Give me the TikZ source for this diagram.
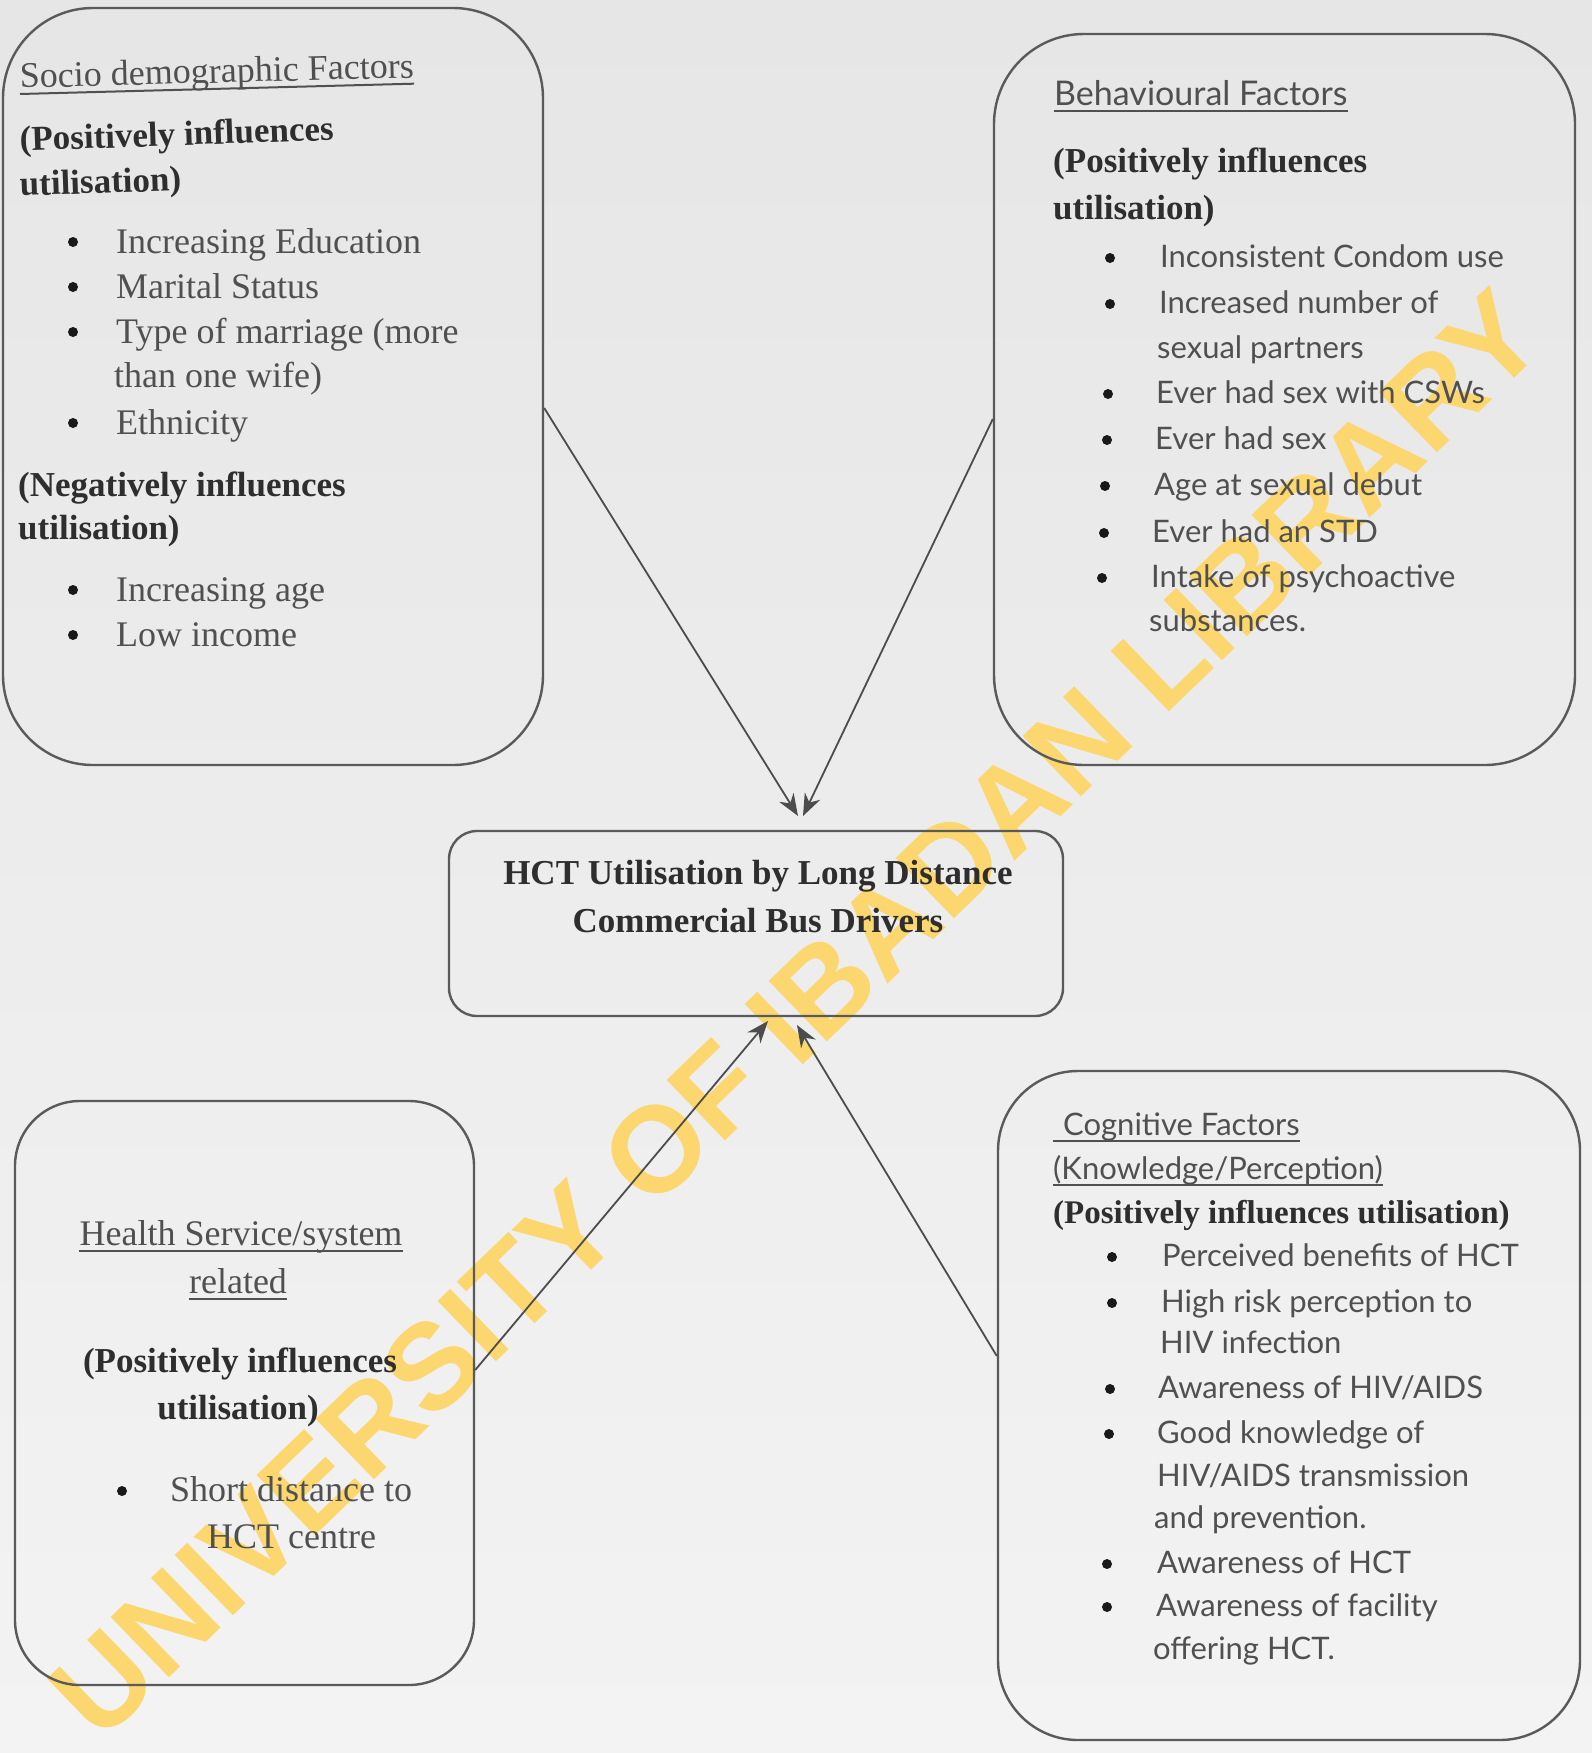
\documentclass[tikz,border=0pt]{standalone}
\usepackage{fontspec}
\setmainfont{Liberation Serif}
\newfontfamily\gill{Lato}
\newfontfamily\stampfont{Liberation Sans}
\usetikzlibrary{arrows.meta,calc}

\definecolor{papertop}{HTML}{E6E6E6}
\definecolor{paperbot}{HTML}{F3F3F3}
\definecolor{ink}{HTML}{505050}
\definecolor{inkdark}{HTML}{2E2E2E}
\definecolor{frame}{HTML}{5A5A5A}
\definecolor{stamp}{RGB}{252,215,112}

\begin{document}
\begin{tikzpicture}[x=1pt,y=-1pt,
  frm/.style={draw=frame, line width=2.4pt},
  txt/.style={anchor=base west, inner sep=0pt, text=ink, font=\fontsize{36}{44}\selectfont},
  ctxt/.style={txt, anchor=base},
  sans/.style={anchor=base west, inner sep=0pt, text=ink, font=\gill\fontsize{31}{40}\selectfont},
  hdr/.style={anchor=base west, inner sep=0pt, text=inkdark, font=\bfseries\fontsize{35}{44}\selectfont},
  chdr/.style={hdr, anchor=base},
  dot/.style={circle, fill=black!90, draw=none, inner sep=0pt, minimum size=10pt},
  uline/.style={draw=ink, line width=2pt},
  conn/.style={draw=black!70, line width=1.8pt, -{Stealth[length=22pt,width=17pt]}},
  stampstyle/.style={inner sep=0pt, text=stamp, font=\stampfont\bfseries\fontsize{122}{122}\selectfont},
]

% paper
\shade[top color=papertop, bottom color=paperbot] (0,0) rectangle (1592,1753);
\useasboundingbox (0,0) rectangle (1592,1753);

% library stamp across the page
\node[stampstyle, rotate=44] (stamp) at (796,1014) {UNIVERSITY OF IBADAN LIBRARY};

% the five frames
\node[frm, rounded corners=90pt, minimum width=540pt, minimum height=757pt] (socio) at (273,386.5) {};
\node[frm, rounded corners=90pt, minimum width=581pt, minimum height=731pt] (behav) at (1284.5,399.5) {};
\node[frm, rounded corners=28pt, minimum width=614pt, minimum height=185pt] (hct) at (756,923.5) {};
\node[frm, rounded corners=65pt, minimum width=459pt, minimum height=584pt] (health) at (244.5,1393) {};
\node[frm, rounded corners=80pt, minimum width=582pt, minimum height=669pt] (cogn) at (1289,1405.5) {};

% ---- socio-demographic factors
\node[txt, rotate=1.5] (s0) at (20,88) {Socio demographic Factors};
\draw[uline] ([yshift=-6pt]s0.base west) -- ([yshift=-6pt]s0.base east);
\node[hdr, rotate=2] (s1) at (20,151) {(Positively influences};
\node[hdr, rotate=2] (s2) at (20,196) {utilisation)};
\foreach \n/\x/\y/\t in {1/116/253/{Increasing Education}, 2/116/298/{Marital Status},
    3/116/343/{Type of marriage (more}, 4/114/387/{than one wife)}, 5/116/434/{Ethnicity},
    6/116/601/{Increasing age}, 7/116/646/{Low income}}
  \node[txt] (sl\n) at (\x,\y) {\t};
\foreach \n/\y in {1/253,2/298,3/343,5/434,6/601,7/646}
  \node[dot] (sb\n) at (73,\y-11) {};
\node[hdr] (s3) at (18,496) {(Negatively influences};
\node[hdr] (s4) at (18,539) {utilisation)};

% ---- behavioural factors
\node[sans, font=\gill\fontsize{34}{40}\selectfont] (b0) at (1054,105) {Behavioural Factors};
\draw[uline] ([yshift=-6pt]b0.base west) -- ([yshift=-6pt]b0.base east);
\node[hdr] (b1) at (1053,172) {(Positively influences};
\node[hdr] (b2) at (1053,219) {utilisation)};
\foreach \n/\x/\y/\t in {1/1160/267/{Inconsistent Condom use}, 2/1159/313/{Increased number of},
    3/1157/358/{sexual partners}, 4/1156/403/{Ever had sex with CSWs}, 5/1155/449/{Ever had sex},
    6/1154/495/{Age at sexual debut}, 7/1152/542/{Ever had an STD},
    8/1151/587/{Intake of psychoactive}, 9/1149/631/{substances.}}
  \node[sans] (bl\n) at (\x,\y) {\t};
\foreach \n/\x/\y in {1/1110/267,2/1110/313,4/1108/403,5/1107/449,6/1105/495,7/1104/542,8/1102/587}
  \node[dot] (bb\n) at (\x,\y-9) {};

% ---- outcome
\node[chdr] (h1) at (758,884) {HCT Utilisation by Long Distance};
\node[chdr] (h2) at (758,932) {Commercial Bus Drivers};

% ---- health service
\node[ctxt] (e0) at (241,1245) {Health Service/system};
\draw[uline] ([yshift=-6pt]e0.base west) -- ([yshift=-6pt]e0.base east);
\node[ctxt] (e1) at (238,1293) {related};
\draw[uline] ([yshift=-6pt]e1.base west) -- ([yshift=-6pt]e1.base east);
\node[chdr] (e2) at (240,1372) {(Positively influences};
\node[chdr] (e3) at (238,1419) {utilisation)};
\node[dot] (eb1) at (122,1491) {};
\node[txt] (el1) at (170,1501) {Short distance to};
\node[txt] (el2) at (207,1548) {HCT centre};

% ---- cognitive factors
\node[sans] (c0) at (1063,1135) {Cognitive Factors};
\draw[uline] (1053,1141) -- ([yshift=-6pt]c0.base east);
\node[sans] (c1) at (1053,1179) {(Knowledge/Perception)};
\draw[uline] ([yshift=-6pt]c1.base west) -- ([yshift=-6pt]c1.base east);
\node[hdr, font=\bfseries\fontsize{33}{40}\selectfont] (c2) at (1053,1223) {(Positively influences utilisation)};
\foreach \n/\x/\y/\t in {1/1162/1266/{Perceived benefits of HCT}, 2/1161/1312/{High risk perception to},
    3/1160/1353/{HIV infection}, 4/1158/1398/{Awareness of HIV/AIDS}, 5/1157/1443/{Good knowledge of},
    6/1157/1486/{HIV/AIDS transmission}, 7/1154/1528/{and prevention.}, 8/1157/1573/{Awareness of HCT},
    9/1156/1616/{Awareness of facility}, 10/1153/1659/{offering HCT.}}
  \node[sans] (cl\n) at (\x,\y) {\t};
\foreach \n/\x/\y in {1/1112/1266,2/1112/1312,4/1110/1398,5/1109/1443,8/1107/1573,9/1107/1616}
  \node[dot] (cb\n) at (\x,\y-9) {};

% ---- influences pointing at the outcome
\coordinate (tipA) at (798,816);
\coordinate (tipB) at (803,816);
\coordinate (tipC) at (768,1021);
\coordinate (tipD) at (797,1025);
\draw[conn] ([yshift=-21.5pt]socio.east) -- (tipA);
\draw[conn] ([yshift=-19.5pt]behav.west) -- (tipB);
\draw[conn] ([yshift=23pt]health.east) -- (tipC);
\draw[conn] ([yshift=49.5pt]cogn.west) -- (tipD);
\end{tikzpicture}
\end{document}
